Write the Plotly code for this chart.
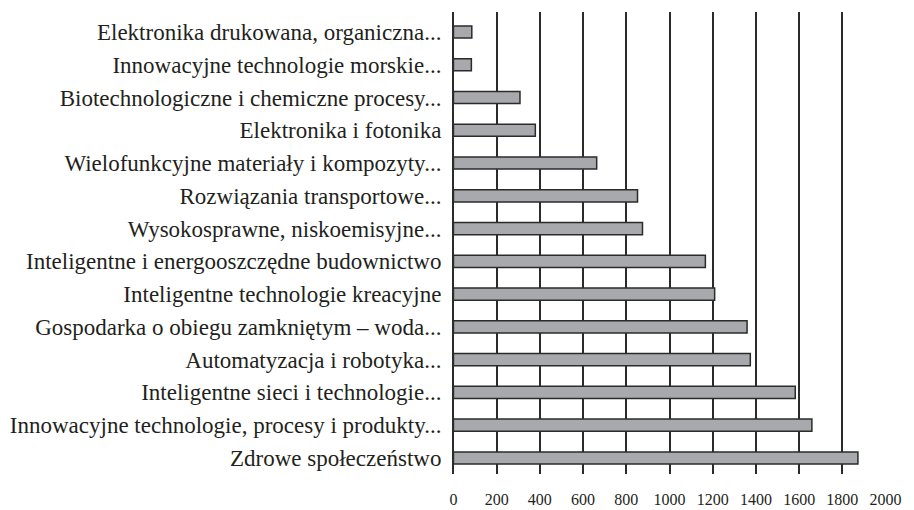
import plotly.graph_objects as go

categories = [
    "Elektronika drukowana, organiczna...",
    "Innowacyjne technologie morskie...",
    "Biotechnologiczne i chemiczne procesy...",
    "Elektronika i fotonika",
    "Wielofunkcyjne materiały i kompozyty...",
    "Rozwiązania transportowe...",
    "Wysokosprawne, niskoemisyjne...",
    "Inteligentne i energooszczędne budownictwo",
    "Inteligentne technologie kreacyjne",
    "Gospodarka o obiegu zamkniętym – woda...",
    "Automatyzacja i robotyka...",
    "Inteligentne sieci i technologie...",
    "Innowacyjne technologie, procesy i produkty...",
    "Zdrowe społeczeństwo",
]
values = [85, 83, 308, 379, 663, 852, 875, 1166, 1209, 1359, 1374, 1582, 1659, 1872]
x_ticks = [0, 200, 400, 600, 800, 1000, 1200, 1400, 1600, 1800, 2000]

# bottom-to-top order for plotly
cats_rev = categories[::-1]
vals_rev = values[::-1]

fig = go.Figure(go.Bar(
    x=vals_rev,
    y=cats_rev,
    orientation="h",
    width=0.37,
    marker=dict(color="#a8a9ac", line=dict(color="#2b2b2b", width=1.5)),
    hoverinfo="x+y",
))

FONT = "Liberation Serif"

fig.update_layout(
    width=906, height=502,
    margin=dict(l=445, r=28, t=4, b=36),
    paper_bgcolor="white", plot_bgcolor="white",
    showlegend=False,
    font=dict(family=FONT, color="#231f20"),
    xaxis=dict(
        range=[-2, 2002],
        tickvals=x_ticks,
        ticktext=[str(v) for v in x_ticks],
        showgrid=True, gridcolor="#2b2b2b", gridwidth=1.6,
        zeroline=True, zerolinecolor="#2b2b2b", zerolinewidth=1.6,
        showline=False,
        ticks="outside", ticklen=0,
        ticklabelstandoff=11,
        tickfont=dict(size=16, family=FONT),
        automargin=False,
    ),
    yaxis=dict(
        type="category",
        range=[-0.49, 13.61],
        showgrid=False, zeroline=False, showline=False,
        ticks="outside", ticklen=0,
        ticklabelstandoff=6,
        tickfont=dict(size=23, family=FONT),
        automargin=False,
    ),
)

fig.write_html("out.html")
